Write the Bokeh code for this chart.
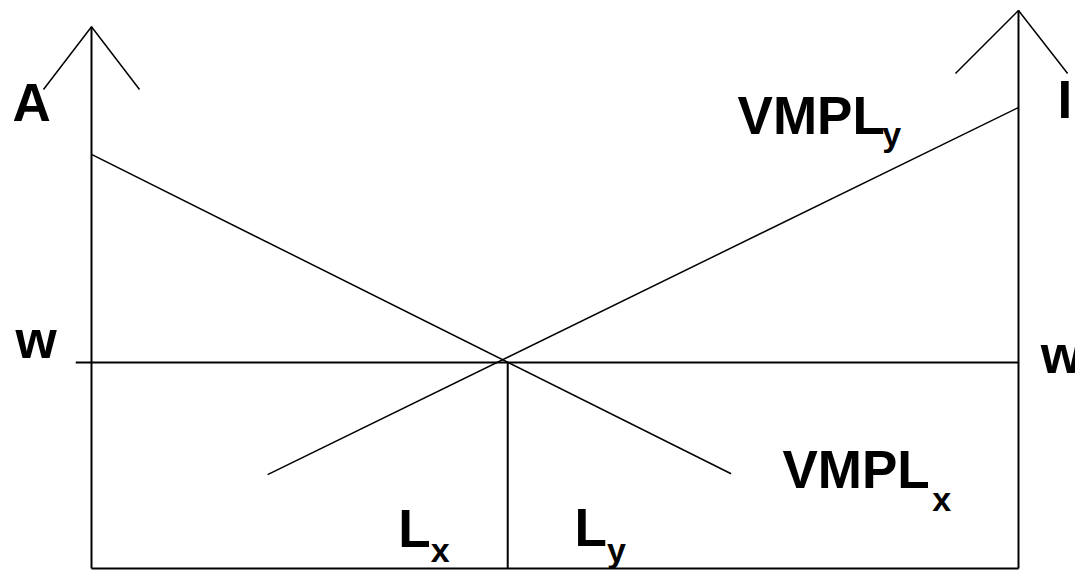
from bokeh.plotting import figure
from bokeh.models import Range1d, ColumnDataSource
from bokeh.core.properties import value
from bokeh.embed import file_html
from bokeh.resources import INLINE

# ---- data (diagram units: labour on x, wage/value on y) ----
L_total = 10.0          # total labour: left origin at 0, right origin at L_total
wage = 10.0             # market wage w
L_star = 4.49           # allocation point (L_x | L_y split)
axis_top_left = 26.3
axis_top_right = 27.09

vmplx_x = [0.0, 6.90]
vmplx_y = [20.1, 4.6]
vmply_x = [1.90, 10.0]
vmply_y = [4.56, 22.38]

wline_x = [-0.17, 10.0]

arrow_left_x = [-0.518, 0.0, 0.518]
arrow_left_y = [23.25, 26.3, 23.25]
arrow_right_x = [9.32, 10.0, 10.53]
arrow_right_y = [24.03, 27.09, 24.03]

label_text = ["A", "w", "w", "I", "VMPL", "VMPL", "L", "L"]
label_x = [-0.852, -0.82, 10.24, 10.42, 6.97, 7.454, 3.31, 5.21]
label_y = [22.62, 11.12, 10.39, 22.77, 21.99, 4.81, 1.94, 1.99]

sub_text = ["y", "x", "x", "y"]
sub_x = [8.53, 9.07, 3.66, 5.56]
sub_y = [21.08, 3.35, 0.92, 0.92]

p = figure(width=1075, height=570, output_backend="svg", toolbar_location=None,
           x_range=Range1d(-0.9817, 10.615), y_range=Range1d(-0.097, 27.573),
           min_border=0)
p.axis.visible = False
p.xgrid.visible = False
p.ygrid.visible = False
p.outline_line_color = None
p.background_fill_color = "white"
p.border_fill_color = "white"

black = "black"
# axes
p.line([0, 0], [0, axis_top_left], line_color=black, line_width=2)
p.line([L_total, L_total], [0, axis_top_right], line_color=black, line_width=2)
p.line([0, L_total], [0, 0], line_color=black, line_width=2)
# arrowheads
p.line(arrow_left_x, arrow_left_y, line_color=black, line_width=1.5)
p.line(arrow_right_x, arrow_right_y, line_color=black, line_width=1.5)
# wage line and allocation line
p.line(wline_x, [wage, wage], line_color=black, line_width=2)
p.line([L_star, L_star], [0, wage], line_color=black, line_width=2)
# VMPL curves
p.line(vmplx_x, vmplx_y, line_color=black, line_width=1.5)
p.line(vmply_x, vmply_y, line_color=black, line_width=1.5)

src = ColumnDataSource(dict(x=label_x, y=label_y, t=label_text))
p.text(x="x", y="y", text="t", source=src, text_font=value("Liberation Sans"),
       text_font_style="bold", text_font_size="53px", text_color=black,
       text_align="left", text_baseline="alphabetic")
src2 = ColumnDataSource(dict(x=sub_x, y=sub_y, t=sub_text))
p.text(x="x", y="y", text="t", source=src2, text_font=value("Liberation Sans"),
       text_font_style="bold", text_font_size="34px", text_color=black,
       text_align="left", text_baseline="alphabetic")

open("out.html", "w").write(file_html(p, INLINE))
